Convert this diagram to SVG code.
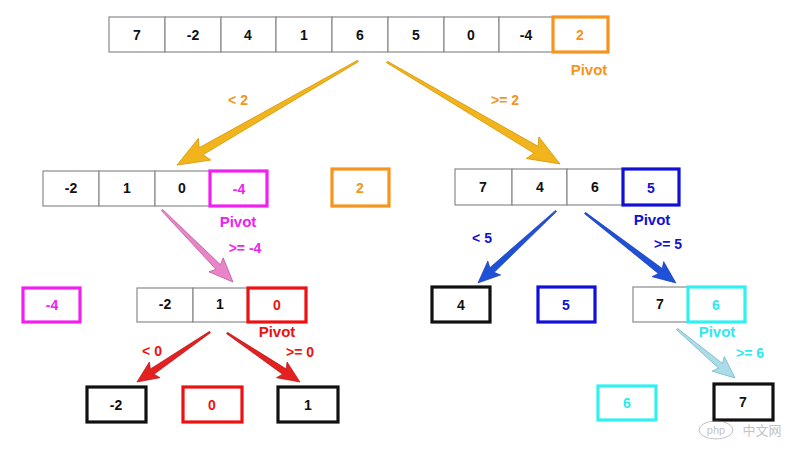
<svg xmlns="http://www.w3.org/2000/svg" width="800" height="458" viewBox="0 0 800 458">
<style>
text{font-family:"Liberation Sans",Arial,sans-serif;font-weight:bold;text-anchor:middle}
.n{font-size:14px;fill:#111}
.p{font-size:14px}
.pv{font-size:15px}
.cell{fill:#fff;stroke:#8a8a8a;stroke-width:1.2}
.thick{fill:#fff;stroke-width:3.2}
.blk{stroke:#111}
.org{stroke:#f7941d}
.mag{stroke:#f020f0}
.blu{stroke:#1010d8}
.red{stroke:#ee1111}
.cyn{stroke:#30f0f0}
.torg{fill:#f7941d}
.tmag{fill:#f020f0}
.tblu{fill:#1010d8}
.tred{fill:#ee1111}
.tcyn{fill:#30e8f0}
.agold{fill:#f2b41c;stroke:#d89c0c;stroke-width:0.8}
.apink{fill:#ea84c8;stroke:#c0609e;stroke-width:0.8}
.ablue{fill:#1f50d8;stroke:#1438b0;stroke-width:0.6}
.ared{fill:#e42020;stroke:#b01010;stroke-width:0.6}
.acyan{fill:#aadcea;stroke:#7ab8c8;stroke-width:0.8}
</style>
<rect width="800" height="458" fill="#fff"/>

<g id="connectors">
<polygon class="agold" transform="translate(358,61) rotate(150.1)" points="0,-0.8 181,-4 177,-12.5 208.8,0 177,12.5 181,4 0,0.8"/>
<polygon class="agold" transform="translate(387,62) rotate(30.5)" points="0,-0.8 173,-4 169,-12.5 200.8,0 169,12.5 173,4 0,0.8"/>
<polygon class="apink" transform="translate(162,210) rotate(45.4)" points="0,-0.8 80,-3.2 77,-10 101.1,0 77,10 80,3.2 0,0.8"/>
<polygon class="ablue" transform="translate(556,211) rotate(137.3)" points="0,-0.8 87,-3.2 84,-9.5 106.2,0 84,9.5 87,3.2 0,0.8"/>
<polygon class="ablue" transform="translate(585,213) rotate(37.6)" points="0,-0.8 95,-3.2 92,-9.5 114.8,0 92,9.5 95,3.2 0,0.8"/>
<polygon class="ared" transform="translate(210,332) rotate(145.6)" points="0,-0.8 70,-3.2 67,-9.5 88.5,0 67,9.5 70,3.2 0,0.8"/>
<polygon class="ared" transform="translate(227,333) rotate(33.9)" points="0,-0.8 69,-3.2 66,-9.5 87.9,0 66,9.5 69,3.2 0,0.8"/>
<polygon class="acyan" transform="translate(677,329) rotate(40.2)" points="0,-0.8 57,-3 54,-9.5 75.9,0 54,9.5 57,3 0,0.8"/>
<text class="p torg" x="238" y="105">&lt; 2</text>
<text class="p torg" x="505" y="105">&gt;= 2</text>
<text class="p tmag" x="245" y="253">&gt;= -4</text>
<text class="p tblu" x="482" y="243">&lt; 5</text>
<text class="p tblu" x="668" y="249">&gt;= 5</text>
<text class="p tred" x="152" y="356">&lt; 0</text>
<text class="p tred" x="300" y="357">&gt;= 0</text>
<text class="p tcyn" x="750" y="358">&gt;= 6</text>
</g>

<g id="root-array">
<rect class="cell" x="109" y="17" width="56" height="35"/>
<rect class="cell" x="165" y="17" width="56" height="35"/>
<rect class="cell" x="221" y="17" width="55" height="35"/>
<rect class="cell" x="276" y="17" width="56" height="35"/>
<rect class="cell" x="332" y="17" width="56" height="35"/>
<rect class="cell" x="388" y="17" width="56" height="35"/>
<rect class="cell" x="444" y="17" width="55" height="35"/>
<rect class="cell" x="499" y="17" width="54" height="35"/>
<rect class="thick org" x="553" y="17" width="55" height="35"/>
<text class="n" x="137" y="40">7</text>
<text class="n" x="193" y="40">-2</text>
<text class="n" x="248" y="40">4</text>
<text class="n" x="304" y="40">1</text>
<text class="n" x="360" y="40">6</text>
<text class="n" x="416" y="40">5</text>
<text class="n" x="471" y="40">0</text>
<text class="n" x="526" y="40">-4</text>
<text class="n torg" x="580" y="40">2</text>
<text class="pv torg" x="589" y="75">Pivot</text>
</g>

<g id="left-array">
<rect class="cell" x="43" y="171" width="56" height="35"/>
<rect class="cell" x="99" y="171" width="56" height="35"/>
<rect class="cell" x="155" y="171" width="55" height="35"/>
<rect class="thick mag" x="210" y="171" width="57" height="35"/>
<text class="n" x="71" y="193">-2</text>
<text class="n" x="127" y="193">1</text>
<text class="n" x="182" y="193">0</text>
<text class="n tmag" x="239" y="194">-4</text>
<text class="pv tmag" x="238" y="227">Pivot</text>
</g>

<g id="pivot-2">
<rect class="thick org" x="332" y="169" width="57" height="37"/>
<text class="n torg" x="360" y="193">2</text>
</g>

<g id="right-array">
<rect class="cell" x="455" y="169" width="57" height="36"/>
<rect class="cell" x="512" y="169" width="55" height="36"/>
<rect class="cell" x="567" y="169" width="56" height="36"/>
<rect class="thick blu" x="623" y="169" width="56" height="36"/>
<text class="n" x="483" y="192">7</text>
<text class="n" x="540" y="192">4</text>
<text class="n" x="595" y="192">6</text>
<text class="n tblu" x="651" y="193">5</text>
<text class="pv tblu" x="652" y="225">Pivot</text>
</g>

<g id="pivot-m4">
<rect class="thick mag" x="23" y="288" width="57" height="34"/>
<text class="n tmag" x="52" y="310">-4</text>
</g>

<g id="left-sub-array">
<rect class="cell" x="137" y="288" width="56" height="34"/>
<rect class="cell" x="193" y="288" width="55" height="34"/>
<rect class="thick red" x="248" y="288" width="58" height="34"/>
<text class="n" x="165" y="309">-2</text>
<text class="n" x="220" y="309">1</text>
<text class="n tred" x="277" y="310">0</text>
<text class="pv tred" x="277" y="337">Pivot</text>
</g>

<g id="node-4">
<rect class="thick blk" x="432" y="287" width="58" height="35"/>
<text class="n" x="461" y="310">4</text>
</g>

<g id="pivot-5">
<rect class="thick blu" x="538" y="287" width="57" height="35"/>
<text class="n tblu" x="566" y="310">5</text>
</g>

<g id="right-sub-array">
<rect class="cell" x="633" y="287" width="55" height="35"/>
<rect class="thick cyn" x="688" y="287" width="57" height="35"/>
<text class="n" x="660" y="309">7</text>
<text class="n tcyn" x="716" y="310">6</text>
<text class="pv tcyn" x="717" y="337">Pivot</text>
</g>

<g id="node-m2">
<rect class="thick blk" x="87" y="387" width="59" height="35"/>
<text class="n" x="116" y="410">-2</text>
</g>

<g id="pivot-0">
<rect class="thick red" x="183" y="387" width="59" height="35"/>
<text class="n tred" x="212" y="410">0</text>
</g>

<g id="node-1">
<rect class="thick blk" x="278" y="387" width="60" height="35"/>
<text class="n" x="308" y="410">1</text>
</g>

<g id="pivot-6">
<rect class="thick cyn" x="598" y="386" width="58" height="34"/>
<text class="n tcyn" x="627" y="408">6</text>
</g>

<g id="node-7">
<rect class="thick blk" x="714" y="384" width="59" height="36"/>
<text class="n" x="743" y="407">7</text>
</g>

<g id="watermark" opacity="0.5">
<ellipse cx="716" cy="430" rx="17" ry="9" fill="none" stroke="#888" stroke-width="1"/>
<text x="716" y="434" style="font-size:11px;fill:#888;font-weight:normal">php</text>
<text x="762" y="435" style="font-size:13px;fill:#888;font-weight:normal;font-family:'Liberation Sans','Noto Sans CJK SC',sans-serif">中文网</text>
</g>
</svg>
